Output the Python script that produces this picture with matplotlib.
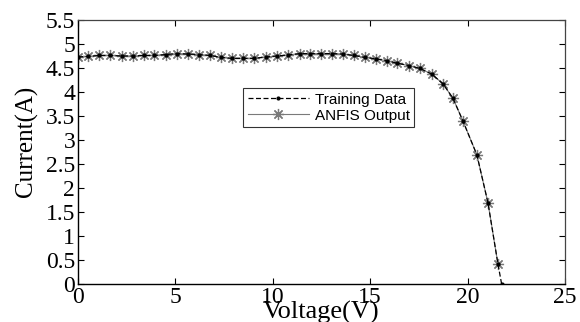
import matplotlib
matplotlib.use("Agg")
import matplotlib.pyplot as plt

# PV module I-V curve: measured (training) data vs ANFIS output
voltage = [0.00, 0.51, 1.08, 1.64, 2.26, 2.82, 3.39, 3.90, 4.52, 5.08,
           5.65, 6.21, 6.78, 7.34, 7.91, 8.47, 9.03, 9.65, 10.22, 10.78,
           11.40, 11.91, 12.47, 13.04, 13.60, 14.17, 14.73, 15.30, 15.86, 16.38,
           16.99, 17.56, 18.17, 18.74, 19.25, 19.76, 20.48, 21.05, 21.56]
current = [4.73, 4.74, 4.76, 4.76, 4.75, 4.75, 4.76, 4.76, 4.78, 4.80,
           4.79, 4.78, 4.76, 4.72, 4.70, 4.70, 4.70, 4.73, 4.75, 4.77,
           4.80, 4.80, 4.80, 4.80, 4.79, 4.76, 4.72, 4.69, 4.65, 4.60,
           4.55, 4.49, 4.37, 4.17, 3.87, 3.40, 2.69, 1.69, 0.42]
# training data runs on to open-circuit point
train_v = voltage + [21.75]
train_i = current + [0.0]

xticks = [0, 5, 10, 15, 20, 25]
yticks = [0, 0.5, 1, 1.5, 2, 2.5, 3, 3.5, 4, 4.5, 5, 5.5]
ytick_labels = ["0", "0.5", "1", "1.5", "2", "2.5", "3", "3.5", "4", "4.5", "5", "5.5"]

serif = ["Liberation Serif", "DejaVu Serif"]

fig = plt.figure(figsize=(5.8, 3.22), dpi=100)
ax = fig.add_axes([0.1345, 0.118, 0.8395, 0.820])

# matlab style '*' marker: plus and cross on top of each other
star = (8, 2, 0)
ax.plot(voltage, current, color="#7a7a7a", linestyle="-", linewidth=0.8,
        marker=star, markersize=8, markeredgewidth=0.9, label="ANFIS Output")
ax.plot(train_v, train_i, color="black", linestyle="--", dashes=(4, 2), linewidth=0.9,
        marker=".", markersize=4, label="Training Data")

ax.set_xlim(0, 25)
ax.set_ylim(0, 5.5)
ax.set_xticks(xticks)
ax.set_yticks(yticks)
ax.set_yticklabels(ytick_labels)
ax.tick_params(direction="in", length=4, width=0.8, top=True, right=True, pad=2)
for lab in ax.get_xticklabels() + ax.get_yticklabels():
    lab.set_family(serif)
    lab.set_fontsize(17)

for side in ["left", "bottom"]:
    ax.spines[side].set_linewidth(1.0)
for side in ["top", "right"]:
    ax.spines[side].set_linewidth(0.9)
    ax.spines[side].set_color("#444444")

ax.set_xlabel("Voltage(V)", family=serif, fontsize=19)
ax.xaxis.set_label_coords(0.5, -0.063)
ax.set_ylabel("Current(A)", family=serif, fontsize=18)
ax.yaxis.set_label_coords(-0.083, 0.54)

# legend order: training first
handles, labels = ax.get_legend_handles_labels()
leg = ax.legend(handles[::-1], labels[::-1], loc="upper left",
                bbox_to_anchor=(0.339, 0.742), frameon=True, fancybox=False,
                prop={"family": "Liberation Sans", "size": 11},
                borderpad=0.3, labelspacing=0.12, handlelength=4.0,
                handletextpad=0.4, borderaxespad=0)
leg.get_frame().set_edgecolor("black")
leg.get_frame().set_linewidth(0.8)

fig.savefig("out.png", dpi=100)
